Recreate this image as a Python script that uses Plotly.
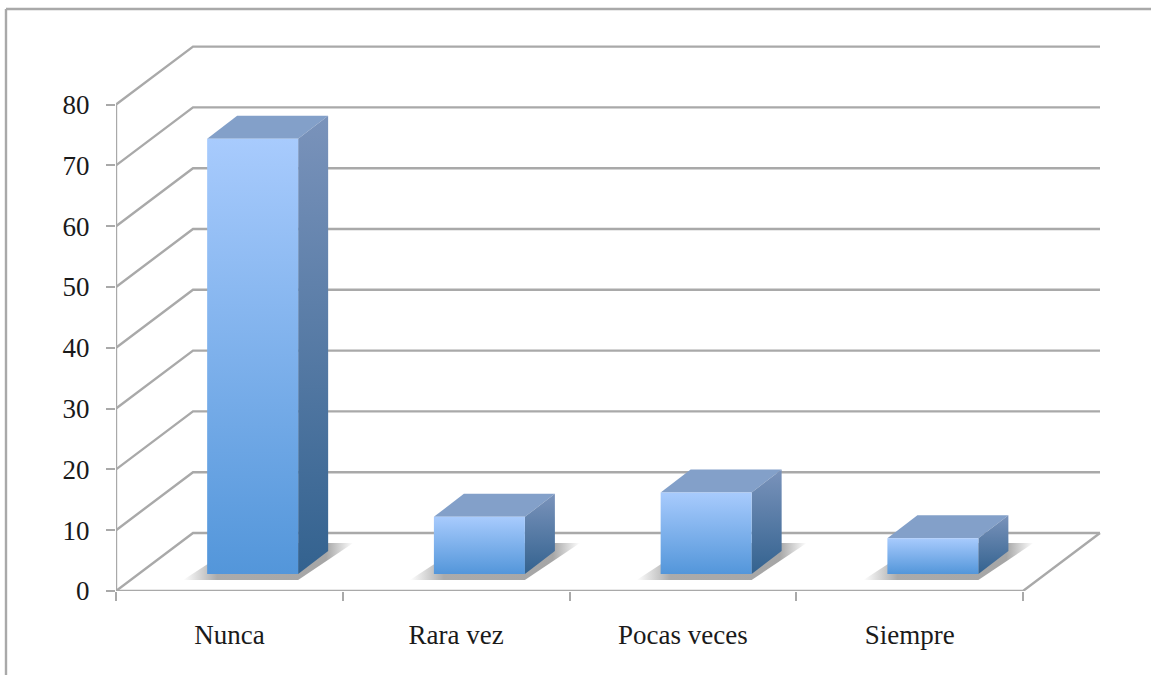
import plotly.graph_objects as go

categories = ["Nunca", "Rara vez", "Pocas veces", "Siempre"]
values = [71.6, 9.4, 13.4, 5.9]
y_ticks = [0, 10, 20, 30, 40, 50, 60, 70, 80]

W, H = 1151, 675
L, R, T, B = 116, 1103, 40, 591
UX, UY = 226.75, 6.08
DX, DY = 77 / UX, 58 / UY            # wall depth
BAR_L, BAR_W = 0.402, 91 / UX
BASE = 17 / UY
SDX, SDY = 30 / UX, 23 / UY          # bar depth
GRID = "#a9a9a9"
TEXT = "#1a1a1a"
FONT = "Liberation Serif"
N = len(categories)

fig = go.Figure()


def line(xs, ys, width=2.4, color=GRID):
    fig.add_trace(go.Scatter(x=xs, y=ys, mode="lines", line=dict(color=color, width=width),
                             hoverinfo="skip", showlegend=False))


def face(xs, ys, scale=None, kind="vertical", color=None):
    kw = dict(fillcolor=color) if color else dict(fillgradient=dict(type=kind, colorscale=scale))
    fig.add_trace(go.Scatter(x=xs + xs[:1], y=ys + ys[:1], mode="lines", fill="toself",
                             line=dict(width=0), hoverinfo="skip", showlegend=False, **kw))


# walls and floor
for v in y_ticks:
    line([0, DX, N + DX], [v, v + DY, v + DY])
line([0, 0], [0, y_ticks[-1]])
line([0, N, N + DX], [0, 0, DY])

# floor shadows
for i, v in enumerate(values):
    x0 = i + BAR_L
    x1 = x0 + BAR_W
    face([x0 - 0.106, x1, x1 + 0.243, x0 + 0.145],
         [BASE - 1.0, BASE - 1.0, BASE + 5.1, BASE + 5.1],
         scale=[[0, "#ffffff"], [0.2, "#ababab"], [0.84, "#a6a6a6"], [1, "#ffffff"]],
         kind="horizontal")

# bars
for i, v in enumerate(values):
    x0 = i + BAR_L
    x1 = x0 + BAR_W
    top = BASE + v
    face([x0, x1, x1 + SDX, x0 + SDX], [top, top, top + SDY, top + SDY], color="#83a0c9")
    face([x1, x1 + SDX, x1 + SDX, x1], [BASE, BASE + SDY, top + SDY, top],
         scale=[[0, "#33628f"], [1, "#7a93bb"]])
    face([x0, x1, x1, x0], [BASE, BASE, top, top],
         scale=[[0, "#5396da"], [1, "#a8cbfd"]])

fig.update_layout(
    width=W, height=H, autosize=False,
    margin=dict(l=L, r=W - R, t=T, b=H - B, autoexpand=False),
    paper_bgcolor="white", plot_bgcolor="rgba(0,0,0,0)", showlegend=False,
    font=dict(family=FONT, size=27, color=TEXT),
    xaxis=dict(range=[0, (R - L) / UX], showgrid=False, zeroline=False, showline=False,
               tickmode="array", tickvals=[i + 0.5 for i in range(N)], ticktext=categories,
               ticks="", ticklabelstandoff=25, tickfont=dict(family=FONT, size=27, color=TEXT),
               minor=dict(tickmode="array", tickvals=list(range(N + 1)), ticks="outside",
                          ticklen=9, tickwidth=1.8, tickcolor=GRID, showgrid=False)),
    yaxis=dict(range=[0, (B - T) / UY], showgrid=False, zeroline=False, showline=False,
               tickmode="array", tickvals=y_ticks, ticks="outside", ticklen=9, tickwidth=1.8,
               tickcolor=GRID, ticklabelstandoff=11,
               tickfont=dict(family=FONT, size=27, color=TEXT)),
    shapes=[
        dict(type="line", xref="paper", yref="paper", layer="below",
             x0=(6 - L) / (R - L), x1=(6 - L) / (R - L),
             y0=(B - H) / (B - T), y1=(B - 9) / (B - T), line=dict(color=GRID, width=2.4)),
        dict(type="line", xref="paper", yref="paper", layer="below",
             x0=(6 - L) / (R - L), x1=(W - L) / (R - L),
             y0=(B - 9) / (B - T), y1=(B - 9) / (B - T), line=dict(color=GRID, width=2.4)),
    ],
)

fig.write_html("out.html", config={"displayModeBar": False},
               post_script="document.body.style.margin='0';document.body.style.overflow='hidden';")
